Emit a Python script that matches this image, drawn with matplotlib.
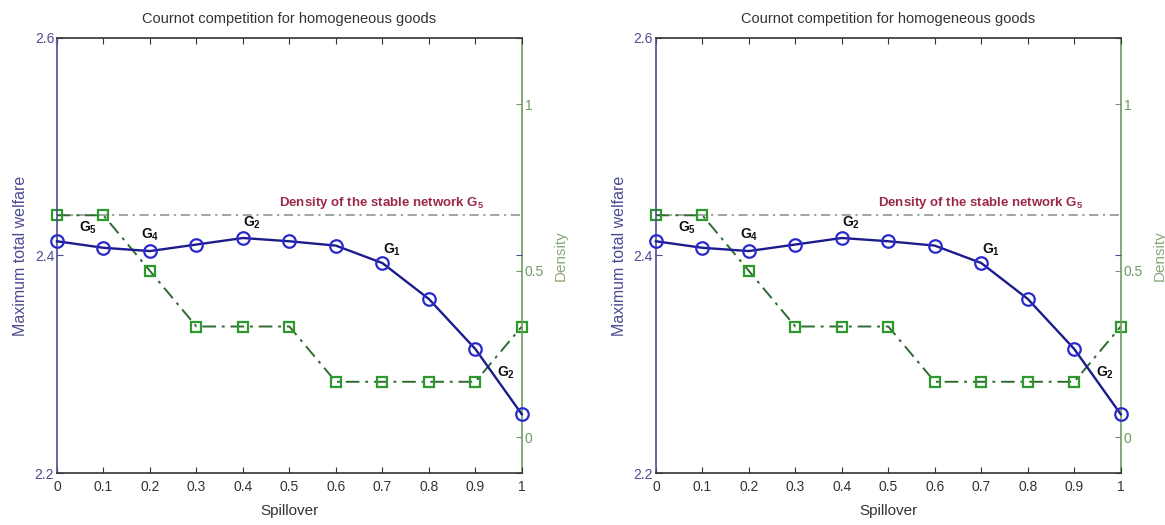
import matplotlib
matplotlib.use("Agg")
import matplotlib.pyplot as plt

plt.rcParams['font.family'] = ['Liberation Sans', 'DejaVu Sans']
plt.rcParams['mathtext.fontset'] = 'custom'
plt.rcParams['mathtext.rm'] = 'Liberation Sans'
plt.rcParams['mathtext.bf'] = 'Liberation Sans:bold'

spillover = [0.0, 0.1, 0.2, 0.3, 0.4, 0.5, 0.6, 0.7, 0.8, 0.9, 1.0]
welfare = [2.413, 2.407, 2.404, 2.410, 2.416, 2.413, 2.409, 2.393, 2.360, 2.314, 2.254]
density = [0.667, 0.667, 0.5, 0.333, 0.333, 0.333, 0.167, 0.167, 0.167, 0.167, 0.333]
stable_density = 0.667
x_ticks = [0, 0.1, 0.2, 0.3, 0.4, 0.5, 0.6, 0.7, 0.8, 0.9, 1]
x_ticklabels = ['0', '0.1', '0.2', '0.3', '0.4', '0.5', '0.6', '0.7', '0.8', '0.9', '1']
welfare_ticks = [2.2, 2.4, 2.6]
density_ticks = [0, 0.5, 1]
labels = [r'$\mathbf{G_5}$', r'$\mathbf{G_4}$', r'$\mathbf{G_2}$', r'$\mathbf{G_1}$', r'$\mathbf{G_2}$']
label_x = [0.067, 0.201, 0.42, 0.72, 0.967]
label_y = [2.4255, 2.419, 2.430, 2.4055, 2.292]
title = 'Cournot competition for homogeneous goods'

BLUE_AX = '#4b4b92'
GREEN_AX = '#6f9a5f'
LINE_BLUE = '#1c1c8c'
MARK_BLUE = '#2a2acc'
LINE_GREEN = '#2f6a2f'
MARK_GREEN = '#2e9a2e'

fig = plt.figure(figsize=(11.65, 5.25), dpi=100)

def draw(left):
    ax = fig.add_axes([left, 0.099, 0.399, 0.829])
    ax2 = ax.twinx()
    ax.set_zorder(ax2.get_zorder() + 1)
    ax.patch.set_visible(False)

    ax.plot(spillover, welfare, '-', color=LINE_BLUE, lw=1.7,
            marker='o', ms=9, mfc='none', mec=MARK_BLUE, mew=1.6, zorder=3, clip_on=False)
    ax2.plot(spillover, density, color=LINE_GREEN, lw=1.4, ls=(0, (7, 3, 1.5, 3)),
             marker='s', ms=7.5, mfc='none', mec=MARK_GREEN, mew=1.6, clip_on=False)
    ax2.axhline(stable_density, color='#8a8a8a', lw=1.1, ls=(0, (6, 3, 1.5, 3)), zorder=1)

    ax.set_xlim(0, 1)
    ax.set_ylim(2.2, 2.6)
    ax2.set_ylim(-0.107, 1.2)
    ax.set_xticks(x_ticks)
    ax.set_xticklabels(x_ticklabels)
    ax.set_yticks(welfare_ticks)
    ax.set_yticklabels(['2.2', '2.4', '2.6'])
    ax2.set_yticks(density_ticks)
    ax2.set_yticklabels(['0', '0.5', '1'])

    ax.tick_params(axis='x', direction='in', top=True, length=4, labelsize=10,
                   colors='#333333', pad=5)
    ax.tick_params(axis='y', direction='in', right=True, length=4, labelsize=10,
                   colors=BLUE_AX, pad=2)
    ax2.tick_params(axis='y', direction='in', length=4, labelsize=10,
                    colors=GREEN_AX, pad=2)

    for s in ['top', 'bottom']:
        ax.spines[s].set_color('#333333')
    ax.spines['left'].set_color(BLUE_AX)
    ax.spines['right'].set_visible(False)
    ax2.spines['right'].set_color(GREEN_AX)
    ax2.spines['left'].set_visible(False)
    ax2.spines['top'].set_visible(False)
    ax2.spines['bottom'].set_visible(False)
    for sp in ax.spines.values():
        sp.set_linewidth(1.2)
    ax2.spines['right'].set_linewidth(1.2)

    ax.set_title(title, fontsize=10.5, color='#333333', pad=11)
    ax.set_xlabel('Spillover', fontsize=11, color='#333333', labelpad=7)
    ax.set_ylabel('Maximum total welfare', fontsize=11.5, color=BLUE_AX, labelpad=5)
    ax2.set_ylabel('Density', fontsize=11, color='#8aa87a')
    ax2.yaxis.set_label_coords(1.068, 0.5)

    for t, tx, ty in zip(labels, label_x, label_y):
        ax.text(tx, ty, t, fontsize=10, color='#111111', ha='center', va='center', zorder=5)
    ax.text(0.477, 2.4485, r'Density of the stable network $\mathbf{G_5}$',
            fontsize=9.5, fontweight='bold', color='#9a2a48', ha='left', va='center')

draw(0.0489)
draw(0.563)

fig.savefig('out.png', dpi=100)
